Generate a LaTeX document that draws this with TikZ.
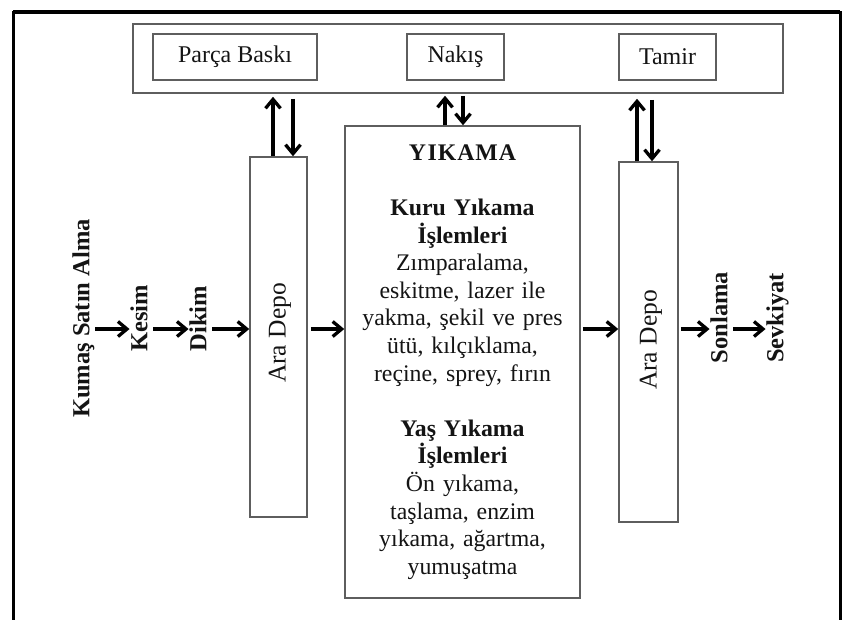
\documentclass[tikz,border=0pt]{standalone}
\usepackage{fontspec}
\setmainfont{Liberation Serif}
\usetikzlibrary{arrows.meta}
\definecolor{boxgray}{HTML}{5E5E5E}
\definecolor{ink}{HTML}{141414}
\begin{document}
\begin{tikzpicture}[x=1pt,y=-1pt,
  box/.style={draw=boxgray, line width=1.5pt, inner sep=0pt, text=ink},
  txt/.style={font=\fontsize{24}{28}\selectfont},
  vlbl/.style={font=\fontsize{24.5}{28}\selectfont\bfseries, rotate=90, inner sep=1pt,
               text height=16.5pt, text depth=5pt, text=ink},
  vreg/.style={font=\fontsize{25.5}{28}\selectfont, rotate=90, inner sep=0pt, text=ink},
  arr/.style={line width=3.3pt, -{Straight Barb[length=9pt,width=15pt]}},
  frame/.style={line width=3pt, line cap=rect}]
\useasboundingbox (0,0) rectangle (844,619);
% outer frame
\draw[frame] (13,619) -- (13,12) -- (840,12) -- (840,619);
\draw[line width=4pt] (13,12) -- (840,12);
% top bar
\node[box, minimum width=650, minimum height=69] (bar) at (458,58.5) {};
\node[box, txt, minimum width=164, minimum height=46] (parca) at (235,57) {Parça Baskı};
\node[box, txt, minimum width=97, minimum height=46] (nakis) at (455.5,57) {Nakış};
\node[box, txt, minimum width=97, minimum height=46] (tamir) at (667.5,57) {Tamir};
% storage boxes
\node[box, minimum width=57, minimum height=360] (lad) at (278.5,337) {};
\node[vreg] (ladt) at (280,333) {Ara Depo};
\node[box, minimum width=59, minimum height=360] (rad) at (648.5,342) {};
\node[vreg] (radt) at (651,340) {Ara Depo};
% washing box
\node[box, minimum width=235, minimum height=472, text width=232, align=center,
      font=\fontsize{23.8}{27.6}\selectfont] (yik) at (462.5,362)
 {\textbf{Y\kern1.5pt I\kern1pt K\kern1pt A\kern1pt M\kern1pt A}\\[27.6pt]
  \textbf{Kuru Yıkama}\\ \textbf{İşlemleri}\\ Zımparalama,\\ eskitme, lazer ile\\
  yakma, şekil ve pres\\ ütü, kılçıklama,\\ reçine, sprey, fırın\\[27.6pt]
  \textbf{Yaş Yıkama}\\ \textbf{İşlemleri}\\ Ön yıkama,\\ taşlama, enzim\\
  yıkama, ağartma,\\ yumuşatma};
% vertical labels
\node[vlbl] (kumas) at (83.5,318.5) {Kumaş Satın Alma};
\node[vlbl] (kesim) at (141.5,318.5) {Kesim};
\node[vlbl] (dikim) at (200.5,318.5) {Dikim};
\node[vlbl] (sonl) at (721.5,317.5) {Sonlama};
\node[vlbl] (sevk) at (777.5,318) {Sevkiyat};
% horizontal flow
\coordinate (ay) at (0,329);
\draw[arr] (kumas.south |- ay) -- (kesim.north |- ay);
\draw[arr] (kesim.south |- ay) -- (dikim.north |- ay);
\draw[arr] (dikim.south |- ay) -- (lad.west |- ay);
\draw[arr, shorten <=3pt] (lad.east |- ay) -- (yik.west |- ay);
\draw[arr, shorten <=2pt] (yik.east |- ay) -- (rad.west |- ay);
\draw[arr, shorten <=2pt] (rad.east |- ay) -- (sonl.north |- ay);
\draw[arr] (sonl.south |- ay) -- (sevk.north |- ay);
% vertical exchange arrows
\draw[arr, shorten >=3pt] ([xshift=-5.5pt]lad.north) -- ([xshift=-5.5pt]lad.north |- bar.south);
\draw[arr, shorten <=5pt] ([xshift=14.5pt]lad.north |- bar.south) -- ([xshift=14.5pt]lad.north);
\draw[arr, shorten >=2pt] ([xshift=-17.5pt]yik.north) -- ([xshift=-17.5pt]yik.north |- bar.south);
\draw[arr, shorten <=2pt] ([xshift=0.5pt]yik.north |- bar.south) -- ([xshift=0.5pt]yik.north);
\draw[arr, shorten >=5pt] ([xshift=-11.5pt]rad.north) -- ([xshift=-11.5pt]rad.north |- bar.south);
\draw[arr, shorten <=6pt] ([xshift=3.5pt]rad.north |- bar.south) -- ([xshift=3.5pt]rad.north);
\end{tikzpicture}
\end{document}
